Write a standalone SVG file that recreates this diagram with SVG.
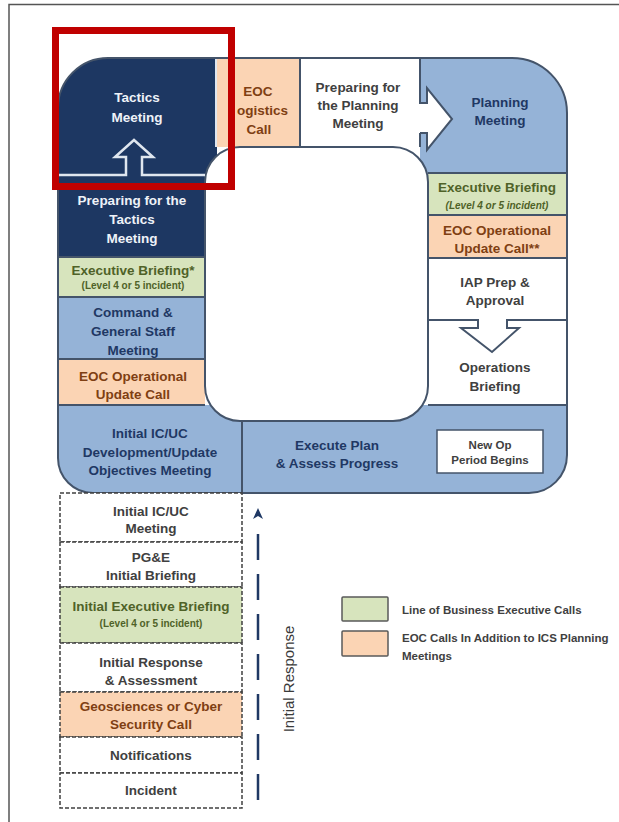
<svg xmlns="http://www.w3.org/2000/svg" width="619" height="822" viewBox="0 0 619 822">
<style>
.t{font-family:"Liberation Sans",Arial,sans-serif;font-weight:bold;font-size:13.5px;text-anchor:middle}
.s{font-size:10px}
.i{font-style:italic}
.w{fill:#eef2f8}
.n{fill:#1f3864}
.g{fill:#4f6228}
.p{fill:#7f3f13}
.k{fill:#404040}
.navy{fill:#1d3762}
.blue{fill:#95b3d7}
.green{fill:#d7e4bd}
.peach{fill:#fbd4b4}
.white{fill:#ffffff}
.div{stroke:#44546a;stroke-width:2;fill:none}
.dash{stroke:#404040;stroke-width:1.5;stroke-dasharray:4 2}
.lg{stroke:#595959;stroke-width:1.5}
.lt{font-family:"Liberation Sans",Arial,sans-serif;font-weight:bold;font-size:11.5px;fill:#404040}
</style>
<defs>
<clipPath id="loop"><path d="M58,108 A50,50 0 0 1 108,58 H512 A55,55 0 0 1 567,113 V455 A38,38 0 0 1 529,493 H93 A35,35 0 0 1 58,458 Z"/></clipPath>
</defs>
<rect width="619" height="822" fill="#ffffff"/>
<path d="M9,822 V4.5 H619" fill="none" stroke="#555" stroke-width="1.5"/>

<g clip-path="url(#loop)">
 <g id="tactics-meeting"><rect class="navy" x="58" y="58" width="159" height="117"/>
  <text class="t w" x="137" y="102">Tactics</text><text class="t w" x="137" y="122">Meeting</text></g>
 <g id="preparing-tactics"><rect class="navy" x="58" y="175" width="147" height="82"/>
  <text class="t w" x="132" y="205">Preparing for the</text><text class="t w" x="132" y="224">Tactics</text><text class="t w" x="132" y="243">Meeting</text></g>
 <g id="eoc-logistics"><rect class="peach" x="217" y="58" width="83" height="89"/>
  <text class="t p" x="258" y="96">EOC</text><text class="t p" x="237" y="115" style="text-anchor:start">ogistics</text><text class="t p" x="259" y="134">Call</text></g>
 <g id="preparing-planning"><rect class="white" x="300" y="58" width="120" height="89"/>
  <text class="t k" x="358" y="92">Preparing for</text><text class="t k" x="358" y="110">the Planning</text><text class="t k" x="358" y="128">Meeting</text></g>
 <g id="planning-meeting"><rect class="blue" x="420" y="58" width="147" height="115"/>
  <text class="t n" x="500" y="107">Planning</text><text class="t n" x="500" y="125">Meeting</text></g>
 <g id="exec-briefing-r"><rect class="green" x="428" y="173" width="139" height="42"/>
  <text class="t g" x="497" y="192">Executive Briefing</text><text class="t g s i" x="497" y="209">(Level 4 or 5 incident)</text></g>
 <g id="eoc-op-update-r"><rect class="peach" x="428" y="215" width="139" height="43"/>
  <text class="t p" x="497" y="235">EOC Operational</text><text class="t p" x="497" y="253">Update Call**</text></g>
 <g id="iap-prep"><rect class="white" x="428" y="258" width="139" height="62"/>
  <text class="t k" x="495" y="287">IAP Prep &amp;</text><text class="t k" x="495" y="305">Approval</text></g>
 <g id="operations-briefing"><rect class="white" x="428" y="320" width="139" height="85"/>
  <text class="t k" x="495" y="372">Operations</text><text class="t k" x="495" y="391">Briefing</text></g>
 <g id="execute-plan"><rect class="blue" x="242" y="405" width="325" height="88"/>
  <text class="t n" x="337" y="450">Execute Plan</text><text class="t n" x="337" y="468">&amp; Assess Progress</text></g>
 <g id="initial-icuc-dev"><rect class="blue" x="58" y="405" width="184" height="88"/>
  <text class="t n" x="150" y="438">Initial IC/UC</text><text class="t n" x="150" y="457">Development/Update</text><text class="t n" x="150" y="475">Objectives Meeting</text></g>
 <g id="eoc-op-update-l"><rect class="peach" x="58" y="359" width="147" height="46"/>
  <text class="t p" x="133" y="381">EOC Operational</text><text class="t p" x="133" y="399">Update Call</text></g>
 <g id="command-general-staff"><rect class="blue" x="58" y="297" width="147" height="62"/>
  <text class="t n" x="133" y="317">Command &amp;</text><text class="t n" x="133" y="336">General Staff</text><text class="t n" x="133" y="355">Meeting</text></g>
 <g id="exec-briefing-l"><rect class="green" x="58" y="257" width="147" height="40"/>
  <text class="t g" x="133" y="275">Executive Briefing*</text><text class="t g s" x="133" y="289">(Level 4 or 5 incident)</text></g>
 <path class="div" d="M58,257 H205 M58,297 H205 M58,359 H205 M58,405 H205 M428,173 H567 M428,215 H567 M428,258 H567 M428,405 H567 M242,405 V493 M300,58 V147 M420,133 V147"/>
 <path d="M216,58 V147" stroke="#dfe6ef" stroke-width="2"/>
</g>
<path d="M58,108 A50,50 0 0 1 108,58 H512 A55,55 0 0 1 567,113 V455 A38,38 0 0 1 529,493 H93 A35,35 0 0 1 58,458 Z" fill="none" stroke="#44546a" stroke-width="2"/>
<rect id="center-hole" x="205" y="147" width="223" height="274" rx="35" fill="#ffffff" stroke="#44546a" stroke-width="2"/>

<g id="new-op-period"><rect x="437" y="430" width="106" height="43" fill="#ffffff" stroke="#44546a" stroke-width="1.5"/>
 <text class="t k" style="font-size:11.5px" x="490" y="449">New Op</text><text class="t k" style="font-size:11.5px" x="490" y="464">Period Begins</text></g>

<g id="initial-response-column">
 <g id="initial-icuc-meeting"><rect class="white dash" x="60" y="493" width="182" height="49"/>
  <text class="t k" x="151" y="516">Initial IC/UC</text><text class="t k" x="151" y="533">Meeting</text></g>
 <g id="pge-initial-briefing"><rect class="white dash" x="60" y="542" width="182" height="45"/>
  <text class="t k" x="151" y="562">PG&amp;E</text><text class="t k" x="151" y="580">Initial Briefing</text></g>
 <g id="initial-exec-briefing"><rect class="green dash" x="60" y="587" width="182" height="56"/>
  <text class="t g" x="151" y="611">Initial Executive Briefing</text><text class="t g s" x="151" y="627">(Level 4 or 5 incident)</text></g>
 <g id="initial-response-assessment"><rect class="white dash" x="60" y="643" width="182" height="49"/>
  <text class="t k" x="151" y="667">Initial Response</text><text class="t k" x="151" y="685">&amp; Assessment</text></g>
 <g id="geosciences-cyber"><rect class="peach dash" x="60" y="692" width="182" height="45"/>
  <text class="t p" x="151" y="711">Geosciences or Cyber</text><text class="t p" x="151" y="729">Security Call</text></g>
 <g id="notifications"><rect class="white dash" x="60" y="737" width="182" height="36"/>
  <text class="t k" x="151" y="760">Notifications</text></g>
 <g id="incident"><rect class="white dash" x="60" y="773" width="182" height="35"/>
  <text class="t k" x="151" y="795">Incident</text></g>
</g>

<g id="connectors">
 <path d="M58,175 H126 V157 H115 L134,140 L153,157 H142 V175 H205" fill="#1d3762" stroke="#dfe6ef" stroke-width="2.5"/>
 <path d="M420,58 V103 H427 V88 L452,119 L427,150 V133 H420" fill="#ffffff" stroke="#44546a" stroke-width="2"/>
 <path d="M428,320 H478 V328 H461 L492,352 L519,328 H507 V320 H567" fill="#ffffff" stroke="#44546a" stroke-width="2"/>
 <line x1="258" y1="800" x2="258" y2="527" stroke="#1f3864" stroke-width="2.5" stroke-dasharray="26 14"/>
 <path d="M253,519 L258,508 L263,519 L258,516 Z" fill="#1f3864"/>
</g>
<text x="0" y="0" transform="translate(294,679) rotate(-90)" style="font-family:'Liberation Sans',Arial,sans-serif;font-size:15px;fill:#3a3a3a;text-anchor:middle">Initial Response</text>

<g id="legend">
 <rect class="green lg" x="342" y="597" width="46" height="24" rx="1"/>
 <text class="lt" x="402" y="614">Line of Business Executive Calls</text>
 <rect class="peach lg" x="342" y="631" width="46" height="25" rx="1"/>
 <text class="lt" x="402" y="642">EOC Calls In Addition to ICS Planning</text>
 <text class="lt" x="402" y="660">Meetings</text>
</g>

<rect id="highlight" x="55.5" y="30.5" width="176" height="156" fill="none" stroke="#c00000" stroke-width="7"/>
</svg>
